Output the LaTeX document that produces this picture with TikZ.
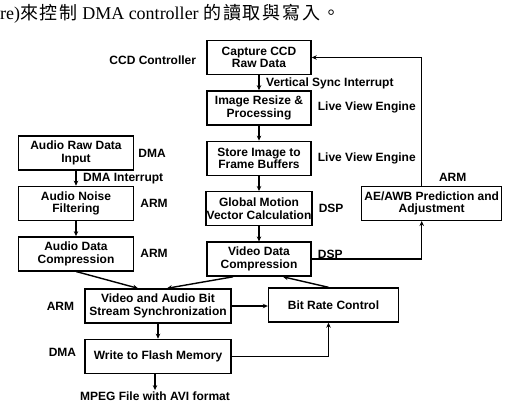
\documentclass[tikz,border=0pt]{standalone}
\usepackage{fontspec}
\setmainfont{Liberation Serif}
\newfontfamily\diagfont{Liberation Sans}
\newfontfamily\cjk[LetterSpace=10]{Noto Sans CJK TC}
\usepackage{tikz}
\usetikzlibrary{positioning,arrows.meta,calc}

\begin{document}
\begin{tikzpicture}[
   x=1pt, y=-1pt,
   node distance=15pt and 5pt,
   box/.style={draw, line width=1.4pt, minimum height=34pt, inner xsep=0.5pt,
               inner ysep=1pt, align=center,
               font=\diagfont\bfseries\fontsize{12}{12.5}\selectfont},
   tag/.style={inner sep=1pt, font=\diagfont\bfseries\fontsize{12}{12.5}\selectfont},
   >={Stealth[length=5pt,width=4.5pt]}]
  \useasboundingbox (0,0) rectangle (521,412);
  \node[anchor=base west, inner sep=0pt, font=\fontsize{18}{20}\selectfont] (caption)
    at (0,19.5) {re){\cjk 來控制} DMA controller {\cjk 的讀取與寫入。}};
  % video path
  \node[box, minimum width=104pt] (capture) at (259,57.5) {Capture CCD\\Raw Data};
  \node[box, minimum width=104pt, below=of capture] (resize) {Image Resize \&\\Processing};
  \node[box, minimum width=104pt, below=of resize] (store) {Store Image to\\Frame Buffers};
  \node[box, minimum width=104pt, below=of store] (gmv) {Global Motion\\Vector Calculation};
  \node[box, minimum width=104pt, below=of gmv] (vcomp) {Video Data\\Compression};
  \node[box, minimum width=140pt] (aeawb) at (431.7,203.3) {AE/AWB Prediction and\\Adjustment};
  % audio path
  \node[box, minimum width=115pt] (audioin) at (76,153) {Audio Raw Data\\Input};
  \node[box, minimum width=115pt, below=of audioin] (noise) {Audio Noise\\Filtering};
  \node[box, minimum width=115pt, below=of noise] (acomp) {Audio Data\\Compression};
  % output path
  \node[box, minimum width=146pt] (sync) at (158,306) {Video and Audio Bit\\Stream Synchronization};
  \node[box, minimum width=130pt] (bitrate) at (333.5,305) {Bit Rate Control};
  \node[box, minimum width=146pt, below=of sync] (flash) {Write to Flash Memory};
  \node[tag, below=16pt of flash, xshift=-3pt] (mpeg) {MPEG File with AVI format};
  % engine labels
  \node[tag, left=9pt of capture, yshift=-3pt] (ccdctl) {CCD Controller};
  \node[tag, below right=1pt and 6pt of capture.south] (vsync) {Vertical Sync Interrupt};
  \node[tag, right=of resize] (lve1) {Live View Engine};
  \node[tag, right=of store] (lve2) {Live View Engine};
  \node[tag, right=of gmv] (dsp1) {DSP};
  \node[tag, above right=-1pt and 5pt of vcomp.east] (dsp2) {DSP};
  \node[tag, above=3pt of aeawb, xshift=21pt] (armae) {ARM};
  \node[tag, right=3pt of audioin] (dmain) {DMA};
  \node[tag, below right=1pt and 6pt of audioin.south] (dmaint) {DMA Interrupt};
  \node[tag, right=of noise] (armnoise) {ARM};
  \node[tag, right=of acomp] (armacomp) {ARM};
  \node[tag, left=9pt of sync] (armsync) {ARM};
  \node[tag, left=7pt of flash, yshift=4pt] (dmaflash) {DMA};
  % connectors
  \begin{scope}[line width=1.4pt]
    \foreach \a/\b in {capture/resize, resize/store, store/gmv, gmv/vcomp,
                       audioin/noise, noise/acomp, sync/flash}
      \draw[->] (\a) -- (\b);
    \draw[->] (flash.south -| mpeg) -- (mpeg);
    \draw[->] (acomp.south) -- ([xshift=-20pt]sync.north);
    \draw[->] ([xshift=-26pt]vcomp.south) -- ([xshift=9pt]sync.north);
    \draw[->] ([xshift=-5pt]bitrate.north) -- ([xshift=24pt]vcomp.south);
    \draw[->] (sync.east) -- (sync.east -| bitrate.west);
    \draw[->] (flash.east) -| ([xshift=-5pt]bitrate.south);
    \draw[->] (vcomp.east) -| ([xshift=-10pt]aeawb.south);
    \draw[->] ([xshift=-10pt]aeawb.north) |- (capture.east);
  \end{scope}
\end{tikzpicture}
\end{document}
